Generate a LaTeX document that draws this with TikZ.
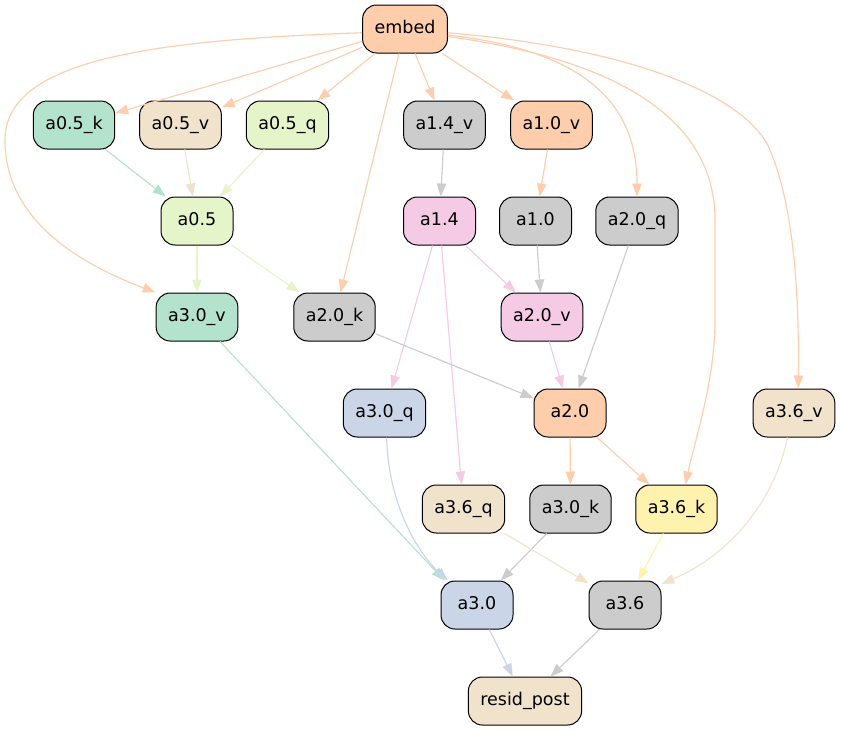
\documentclass[tikz,border=0pt]{standalone}
\usepackage{fontspec}
\setmainfont{DejaVu Sans}
\usetikzlibrary{arrows.meta}
\definecolor{pgreen}{HTML}{B3E2CD}
\definecolor{porange}{HTML}{FDCDAC}
\definecolor{pblue}{HTML}{CBD5E8}
\definecolor{ppink}{HTML}{F4CAE4}
\definecolor{plime}{HTML}{E6F5C9}
\definecolor{pyellow}{HTML}{FFF2AE}
\definecolor{pbeige}{HTML}{F1E2CC}
\definecolor{pgray}{HTML}{CCCCCC}
\begin{document}
\begin{tikzpicture}[x=1pt,y=-1pt,
  box/.style={draw=black, line width=1pt, rounded corners=14pt, fill=#1,
    minimum width=72pt, minimum height=48pt, inner xsep=12pt,
    font=\fontsize{17.5}{20}\selectfont, text height=13pt, text depth=4pt},
  e/.style={draw=#1, line width=1.15pt, -{Triangle[length=13pt,width=9.5pt]}}]
\useasboundingbox (0,0) rectangle (841,731);
% nodes
\node[box=porange] (embed) at (405,29) {embed};
\node[box=pgreen]  (a05k) at (74,125) {a0.5\_k};
\node[box=pbeige]  (a05v) at (180.5,125) {a0.5\_v};
\node[box=plime]   (a05q) at (287.5,125) {a0.5\_q};
\node[box=pgray]   (a14v) at (444.5,125) {a1.4\_v};
\node[box=porange] (a10v) at (551.5,125) {a1.0\_v};
\node[box=plime]   (a05) at (197,221) {a0.5};
\node[box=ppink]   (a14) at (439.5,221) {a1.4};
\node[box=pgray]   (a10) at (535.5,221) {a1.0};
\node[box=pgray]   (a20q) at (637,221) {a2.0\_q};
\node[box=pgreen]  (a30v) at (197,317) {a3.0\_v};
\node[box=pgray]   (a20k) at (334.5,317) {a2.0\_k};
\node[box=ppink]   (a20v) at (542,317) {a2.0\_v};
\node[box=pblue]   (a30q) at (384.5,413) {a3.0\_q};
\node[box=porange] (a20) at (570,413) {a2.0};
\node[box=pbeige]  (a36v) at (794,413) {a3.6\_v};
\node[box=pbeige]  (a36q) at (463.5,509) {a3.6\_q};
\node[box=pgray]   (a30k) at (570.5,509) {a3.0\_k};
\node[box=pyellow] (a36k) at (676.5,509) {a3.6\_k};
\node[box=pblue]   (a30) at (477,605) {a3.0};
\node[box=pgray]   (a36) at (625,605) {a3.6};
\node[box=pbeige]  (resid) at (525,701) {resid\_post};
% edges from embed
\draw[e=porange] (embed) -- (a05k);
\draw[e=porange] (embed) -- (a05v);
\draw[e=porange] (embed) -- (a05q);
\draw[e=porange] (embed) -- (a14v);
\draw[e=porange] (embed) -- (a10v);
\draw[e=porange] (embed) -- (a20k);
\draw[e=porange] (embed.185) .. controls (150,40) and (5,60) .. (5,140)
  .. controls (5,215) and (70,260) .. (a30v.north west);
\draw[e=porange] (embed.-8) .. controls (580,50) and (637,100) .. (a20q.north);
\draw[e=porange] (embed.-10) .. controls (620,60) and (715,120) .. (715,220)
  -- (715,320) .. controls (715,380) and (695,440) .. (a36k.70);
\draw[e=porange] (embed.-5) .. controls (650,50) and (750,102) .. (770,150)
  .. controls (795,210) and (799,300) .. (a36v.80);
% layer 1 -> 2
\draw[e=pgreen] (a05k) -- (a05);
\draw[e=pbeige] (a05v) -- (a05);
\draw[e=plime] (a05q) -- (a05);
\draw[e=pgray] (a14v) -- (a14);
\draw[e=porange] (a10v) -- (a10);
% layer 2 -> 3
\draw[e=plime] (a05) -- (a30v);
\draw[e=plime] (a05) -- (a20k);
\draw[e=ppink] (a14) -- (a20v);
\draw[e=ppink] (a14) -- (a30q);
\draw[e=ppink] (a14) -- (a36q);
\draw[e=pgray] (a10) -- (a20v);
\draw[e=pgray] (a20q) -- (a20);
% layer 3 -> 4
\draw[e=pgray] (a20k) -- (a20);
\draw[e=ppink] (a20v) -- (a20);
% layer 4 -> 5
\draw[e=porange] (a20) -- (a30k);
\draw[e=porange] (a20) -- (a36k);
% to a3.0 / a3.6
\draw[e=pgreen] (a30v) -- (a30.143);
\draw[e=pblue] (a30q.-85) .. controls (388,500) and (415,550) .. (a30.140);
\draw[e=pgray] (a30k) -- (a30);
\draw[e=pbeige] (a36q) -- (a36);
\draw[e=pyellow] (a36k) -- (a36);
\draw[e=pbeige] (a36v.-105) .. controls (775,500) and (730,555) .. (a36.30);
% to resid_post
\draw[e=pblue] (a30) -- (resid);
\draw[e=pgray] (a36) -- (resid);
\end{tikzpicture}
\end{document}
